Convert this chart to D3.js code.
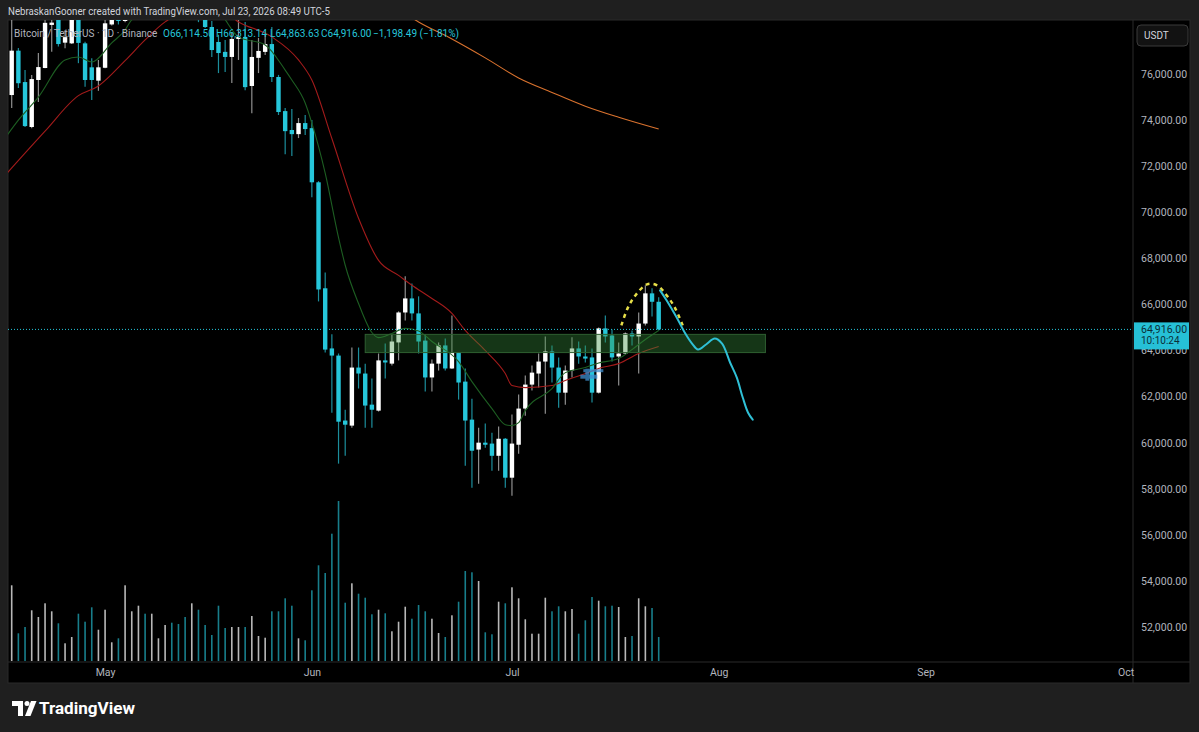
<!DOCTYPE html>
<html>
<head>
<meta charset="utf-8">
<script src="https://cdn.jsdelivr.net/npm/d3@7"></script>
<style>
  body { margin: 0; background: #1f1f1f; }
  svg { display: block; }
  text { font-family: Roboto, "Noto Sans", sans-serif; }
</style>
</head>
<body>
<svg id="chart"></svg>
<script>
//first daily candle, one candle per day after it
var startDate = "2026-04-17";

//daily candles (BTC/USDT, Binance)
var opens = [75087, 77013, 75650, 73700, 75740, 76260, 78130, 78600, 77360, 77330,
    78700, 77330, 76290, 75710, 76270, 78150, 79100, 78300, 80300, 80900,
    81500, 80800, 81300, 81600, 82000, 81300, 80600, 79900, 80600, 79400,
    78040, 77390, 76960, 76740, 77520, 77610, 75480, 76700, 76960, 77300,
    75870, 74390, 73570, 73390, 73870, 73650, 71300, 66700, 64090, 63780,
    60960, 60740, 63260, 63000, 61650, 61390, 63570, 63430, 64350, 65650,
    66260, 65610, 64430, 62830, 63430, 64220, 63220, 63910, 62650, 61000,
    59700, 60000, 59960, 59430, 60170, 58480, 59910, 61480, 62520, 63000,
    63520, 63960, 63260, 62170, 63130, 64090, 63740, 63700, 62170, 64960,
    64650, 63740, 63870, 64740, 64610, 65170, 66480, 66114.5];
var highs = [78600, 77130, 76170, 75960, 76910, 78560, 78500, 78900, 77900, 79000,
    79100, 77400, 76680, 76610, 78700, 79400, 79500, 80600, 81200, 81900,
    81800, 81600, 81900, 82400, 82300, 81600, 81000, 81000, 80900, 79700,
    78300, 77700, 77480, 77780, 78350, 78260, 77480, 77570, 77700, 78040,
    75960, 74520, 74480, 74090, 74220, 74000, 71350, 67390, 64700, 63870,
    61430, 64130, 64130, 63430, 62780, 63870, 64300, 64700, 65700, 67220,
    66910, 66350, 64700, 63610, 64350, 64520, 65520, 63930, 63220, 61910,
    60650, 60830, 60430, 60700, 60200, 61220, 62090, 62910, 63350, 63870,
    64610, 64220, 63700, 63350, 64570, 64390, 64220, 64090, 65000, 65520,
    64910, 64350, 64780, 64870, 65650, 66830, 66700, 66313.14];
var lows = [74520, 75390, 73700, 73650, 74780, 76250, 76970, 77190, 77120, 77300,
    76470, 75450, 74870, 75270, 76250, 78100, 78150, 78250, 79900, 80500,
    80600, 80400, 81000, 81200, 81000, 80300, 79700, 79500, 78250, 78000,
    76740, 76040, 76090, 75610, 76610, 75300, 74300, 76040, 76830, 75650,
    74220, 72520, 72440, 73220, 73350, 70650, 66130, 63910, 61300, 59090,
    59430, 60650, 62350, 60650, 60650, 61350, 62780, 63350, 63570, 65300,
    65300, 63870, 62220, 62220, 63130, 63130, 63200, 61870, 59000, 58040,
    58220, 59780, 58780, 58780, 58040, 57700, 59520, 61170, 62260, 62390,
    61260, 62610, 61520, 61650, 62830, 63430, 63480, 61740, 62130, 64350,
    63520, 62480, 63850, 64220, 63000, 65090, 65480, 64863.63];
var closes = [77013, 75600, 73740, 75780, 76300, 78220, 78230, 77300, 77600, 78700,
    77350, 75740, 75740, 76290, 78200, 79100, 78300, 80300, 80900, 81500,
    80800, 81300, 81600, 82000, 81300, 80600, 79900, 80600, 79400, 78040,
    77040, 76910, 76740, 77520, 77610, 75430, 76740, 77000, 77300, 75870,
    74350, 73520, 73390, 73870, 73610, 71300, 66650, 64040, 63780, 60910,
    60780, 63260, 63000, 61610, 61430, 63570, 63480, 64390, 65650, 66260,
    65610, 64390, 62830, 63430, 64220, 63220, 63910, 62610, 60960, 59650,
    60000, 59910, 59430, 60170, 58480, 59960, 61480, 62520, 63040, 63520,
    63960, 63260, 62170, 63130, 64090, 63740, 63650, 62170, 64960, 64610,
    63700, 63870, 64740, 64610, 65170, 66480, 66114.49, 64916];
//volume, thousand BTC
var volumes = [7.57, 2.77, 3.40, 5.07, 4.40, 5.77, 4.97, 3.77, 1.77, 2.40,
    4.73, 3.93, 5.37, 3.13, 5.13, 1.87, 2.27, 7.57, 4.97, 5.53,
    4.73, 4.73, 2.27, 3.60, 3.83, 3.70, 4.40, 5.77, 5.13, 3.60,
    2.60, 5.53, 3.30, 3.40, 3.40, 3.40, 4.50, 2.50, 2.33, 4.97,
    4.97, 6.27, 5.53, 2.27, 2.07, 7.07, 9.57, 8.80, 12.73, 16.00,
    5.83, 7.77, 6.73, 6.33, 4.67, 5.13, 4.77, 2.97, 3.93, 5.43,
    4.23, 5.60, 4.97, 4.23, 2.80, 2.40, 4.57, 5.93, 9.00, 8.87,
    8.00, 2.87, 2.67, 5.93, 5.77, 7.37, 6.27, 4.17, 2.73, 2.73,
    6.33, 4.97, 5.47, 4.97, 5.20, 2.73, 4.07, 6.40, 6.03, 5.47,
    5.53, 5.40, 2.40, 2.50, 6.27, 5.47, 5.30, 2.40];

//moving averages
var fastMaDates = ["2026-04-16", "2026-04-18", "2026-04-21", "2026-04-25", "2026-04-27", "2026-04-29",
    "2026-05-02", "2026-05-04", "2026-05-05", "2026-05-09", "2026-05-14", "2026-05-18", "2026-05-21",
    "2026-05-25", "2026-05-28", "2026-05-29", "2026-05-31", "2026-06-01", "2026-06-03", "2026-06-05",
    "2026-06-06", "2026-06-08", "2026-06-10", "2026-06-11", "2026-06-13", "2026-06-15", "2026-06-17",
    "2026-06-19", "2026-06-23", "2026-06-25", "2026-06-28", "2026-06-30", "2026-07-01", "2026-07-02",
    "2026-07-03", "2026-07-07", "2026-07-09", "2026-07-12", "2026-07-14", "2026-07-17", "2026-07-19",
    "2026-07-21", "2026-07-23"];
var fastMaValues = [73220, 74000, 75000, 76610, 76740, 76520,
    77350, 77910, 78350, 78900, 79100, 78700, 77610,
    77260, 76170, 75740, 74740, 73870, 71700, 68900,
    67700, 66040, 64780, 64560, 64740, 64960, 64850,
    64390, 63520, 62650, 61480, 60780, 60740, 60870,
    61390, 62350, 63040, 63260, 63460, 63650, 64040,
    64480, 64870];
var slowMaDates = ["2026-04-16", "2026-04-22", "2026-04-27", "2026-04-30", "2026-05-04", "2026-05-07",
    "2026-05-10", "2026-05-14", "2026-05-18", "2026-05-21", "2026-05-26", "2026-05-30", "2026-06-01",
    "2026-06-04", "2026-06-08", "2026-06-11", "2026-06-14", "2026-06-16", "2026-06-19", "2026-06-22",
    "2026-06-24", "2026-06-27", "2026-06-30", "2026-07-01", "2026-07-03", "2026-07-07", "2026-07-09",
    "2026-07-12", "2026-07-14", "2026-07-17", "2026-07-20", "2026-07-23"];
var slowMaValues = [71600, 73520, 75060, 75480, 76580, 77480,
    78260, 78800, 78850, 78260, 77610, 76610, 75740,
    73200, 69740, 67910, 67260, 66830, 66260, 65610,
    64870, 64000, 63000, 62480, 62390, 62480, 62700,
    63000, 63220, 63430, 63870, 64170];
var longMaDates = ["2026-06-13", "2026-06-17", "2026-06-22", "2026-06-27", "2026-07-02", "2026-07-07",
    "2026-07-12", "2026-07-17", "2026-07-23"];
var longMaValues = [79000, 78260, 77520, 76700, 75830, 75200, 74600, 74120, 73610];

//drawings: support zone, projected path, dashed top arc
var zoneDates = ["2026-06-09", "2026-08-08"];
var zonePrices = [63910, 64700];
var pathDays = [0.2, 1.2, 2.7, 3.9, 5.0, 5.9, 7.1, 8.4, 9.5, 10.7, 11.7, 12.6, 13.4, 14.1]; //days after last candle
var pathPrices = [66610, 66170, 65430, 64780, 64300, 64040, 64260, 64520, 64300, 63480, 62830, 61960, 61300, 61000];
var arcDays = [-5.6, -4.6, -3.5, -1.75, -0.25, 1.2, 2.4, 3.6];
var arcPrices = [65090, 65870, 66390, 66870, 66830, 66390, 65870, 65090];
var markerDate = "2026-07-12", markerPrice = 62950;

//axes
var priceTicks = [52000, 54000, 56000, 58000, 60000, 62000, 64000, 66000, 68000, 70000, 72000, 74000, 76000];
var monthTicks = ["2026-05-01", "2026-06-01", "2026-07-01", "2026-08-01", "2026-09-01", "2026-10-01"];
var lastPrice = 64916, countdown = "10:10:24";

var headerText = "NebraskanGooner created with TradingView.com, Jul 23, 2026 08:49 UTC-5";
var symbolText = "Bitcoin / TetherUS \u00b7 1D \u00b7 Binance";
var ohlcItems = ["O66,114.50", "H66,313.14", "L64,863.63", "C64,916.00", "\u22121,198.49 (\u22121.81%)"];

document.addEventListener("DOMContentLoaded", function() {
    drawChart();
});

function drawChart() {
    var svgWidth = 1199, svgHeight = 732;
    var pane = { left: 8, top: 20, right: 1133, bottom: 662 };
    var up = "#ffffff", down = "#26c6da";

    var parse = d3.utcParse("%Y-%m-%d");
    var day0 = parse(startDate);
    var data = opens.map(function(o, i) {
        return {
            date: d3.utcDay.offset(day0, i),
            open: o, high: highs[i], low: lows[i], close: closes[i], volume: volumes[i]
        };
    });
    var lastDate = data[data.length - 1].date;
    var afterLast = function(d) { return new Date(lastDate.getTime() + d * 864e5); };

    var svg = d3.select("#chart")
        .attr("width", svgWidth)
        .attr("height", svgHeight);

    //scales
    var x = d3.scaleUtc().domain([day0, lastDate]).range([11.7, 658.7]);
    var y = d3.scaleLinear().domain([52000, 76000]).range([627, 74]);
    var yVol = d3.scaleLinear().domain([0, 16]).range([661, 501]);

    //header strip text
    svg.append("text")
        .attr("x", 8).attr("y", 15)
        .attr("fill", "#d1d4dc").attr("font-size", 11)
        .attr("textLength", 322).attr("lengthAdjust", "spacingAndGlyphs")
        .text(headerText);

    //chart panel
    svg.append("rect")
        .attr("x", pane.left).attr("y", pane.top)
        .attr("width", 1190 - pane.left).attr("height", 683 - pane.top)
        .attr("fill", "#000").attr("stroke", "#2a2a2a");

    svg.append("clipPath").attr("id", "clip")
        .append("rect")
        .attr("x", pane.left).attr("y", pane.top)
        .attr("width", pane.right - pane.left).attr("height", pane.bottom - pane.top);

    var g = svg.append("g").attr("clip-path", "url(#clip)");

    //volume
    g.append("g").selectAll("rect")
        .data(data)
        .enter().append("rect")
        .attr("x", function(d) { return x(d.date) - 0.8; })
        .attr("width", 1.6)
        .attr("y", function(d) { return yVol(d.volume); })
        .attr("height", function(d) { return yVol(0) - yVol(d.volume); })
        .attr("fill", function(d) { return d.close >= d.open ? "#d8d8d8" : "#1c94a3"; })
        .attr("opacity", 0.85);

    //candles
    var candles = g.append("g").selectAll("g")
        .data(data)
        .enter().append("g");
    candles.append("line")
        .attr("x1", function(d) { return x(d.date); })
        .attr("x2", function(d) { return x(d.date); })
        .attr("y1", function(d) { return y(d.high); })
        .attr("y2", function(d) { return y(d.low); })
        .attr("stroke", function(d) { return d.close >= d.open ? "#8f8f8f" : "#1c8e9c"; })
        .attr("stroke-width", 1.2);
    candles.append("rect")
        .attr("x", function(d) { return x(d.date) - 2.2; })
        .attr("width", 4.4)
        .attr("y", function(d) { return y(Math.max(d.open, d.close)); })
        .attr("height", function(d) { return Math.max(1, Math.abs(y(d.open) - y(d.close))); })
        .attr("fill", function(d) { return d.close >= d.open ? up : down; });

    //moving averages
    var maLine = d3.line()
        .x(function(d) { return x(parse(d[0])); })
        .y(function(d) { return y(d[1]); })
        .curve(d3.curveMonotoneX);
    var mas = [
        { dates: longMaDates, values: longMaValues, color: "#d9722e" },
        { dates: slowMaDates, values: slowMaValues, color: "#a31b1b" },
        { dates: fastMaDates, values: fastMaValues, color: "#1d5e22" }
    ];
    mas.forEach(function(ma) {
        g.append("path")
            .datum(d3.zip(ma.dates, ma.values))
            .attr("fill", "none")
            .attr("stroke", ma.color)
            .attr("stroke-width", 1.1)
            .attr("d", maLine);
    });

    //support zone
    g.append("rect")
        .attr("x", x(parse(zoneDates[0])))
        .attr("width", x(parse(zoneDates[1])) - x(parse(zoneDates[0])))
        .attr("y", y(zonePrices[1]))
        .attr("height", y(zonePrices[0]) - y(zonePrices[1]))
        .attr("fill", "rgb(56,142,60)").attr("fill-opacity", 0.38)
        .attr("stroke", "#2f5f31").attr("stroke-width", 1);

    //blue position marker
    var mx = x(parse(markerDate)), my = y(markerPrice);
    var marker = g.append("g").attr("fill", "#3f8fd0").attr("opacity", 0.75);
    marker.append("rect").attr("x", mx - 2).attr("y", my - 5.5).attr("width", 20).attr("height", 3);
    marker.append("rect").attr("x", mx - 5).attr("y", my).attr("width", 17).attr("height", 4);
    marker.append("rect").attr("x", mx).attr("y", my - 6).attr("width", 4).attr("height", 12);

    //dashed top arc
    var curve = d3.line()
        .x(function(d) { return x(afterLast(d[0])); })
        .y(function(d) { return y(d[1]); })
        .curve(d3.curveCatmullRom);
    g.append("path")
        .datum(d3.zip(arcDays, arcPrices))
        .attr("fill", "none")
        .attr("stroke", "#e6de48")
        .attr("stroke-width", 2.5)
        .attr("stroke-dasharray", "4,4")
        .attr("d", curve);

    //projected path
    g.append("path")
        .datum(d3.zip(pathDays, pathPrices))
        .attr("fill", "none")
        .attr("stroke", "#2fc0d6")
        .attr("stroke-width", 2)
        .attr("stroke-linejoin", "round")
        .attr("stroke-linecap", "round")
        .attr("d", curve);

    //last price line
    svg.append("line")
        .attr("x1", pane.left).attr("x2", pane.right)
        .attr("y1", y(lastPrice)).attr("y2", y(lastPrice))
        .attr("stroke", "#26c6da").attr("stroke-width", 1)
        .attr("stroke-dasharray", "1,2");

    //price scale
    svg.append("line")
        .attr("x1", pane.right).attr("x2", pane.right)
        .attr("y1", pane.top).attr("y2", 683)
        .attr("stroke", "#2a2a2a");
    var yAxis = svg.append("g")
        .attr("transform", "translate(" + pane.right + ",0)")
        .call(d3.axisRight(y).tickValues(priceTicks).tickFormat(d3.format(",.2f")).tickSize(0).tickPadding(8));
    yAxis.select(".domain").remove();
    yAxis.selectAll("text")
        .attr("fill", "#b2b5be")
        .attr("font-size", 10.5)
        .attr("font-family", "Roboto, sans-serif");

    //currency button
    svg.append("rect")
        .attr("x", 1137).attr("y", 25).attr("width", 51).attr("height", 21).attr("rx", 4)
        .attr("fill", "#121212").attr("stroke", "#3a3a3a");
    svg.append("text")
        .attr("x", 1144).attr("y", 39)
        .attr("fill", "#d1d4dc").attr("font-size", 10)
        .text("USDT");

    //last price label, covers the tick label beneath it
    svg.append("rect")
        .attr("x", pane.right + 1).attr("y", y(lastPrice) - 7)
        .attr("width", 55).attr("height", 27)
        .attr("fill", "#26c0d6");
    svg.append("text")
        .attr("x", 1141).attr("y", y(lastPrice) + 3.5)
        .attr("fill", "#0b2f38").attr("font-size", 10.5)
        .text(d3.format(",.2f")(lastPrice));
    svg.append("text")
        .attr("x", 1141).attr("y", y(lastPrice) + 15)
        .attr("fill", "#0b2f38").attr("font-size", 10)
        .text(countdown);

    //time scale
    svg.append("line")
        .attr("x1", pane.left).attr("x2", 1190)
        .attr("y1", pane.bottom).attr("y2", pane.bottom)
        .attr("stroke", "#2a2a2a");
    var xAxis = svg.append("g")
        .attr("transform", "translate(0," + pane.bottom + ")")
        .call(d3.axisBottom(x).tickValues(monthTicks.map(parse)).tickFormat(d3.utcFormat("%b")).tickSize(0).tickPadding(7));
    xAxis.select(".domain").remove();
    xAxis.selectAll("text")
        .attr("fill", "#b2b5be")
        .attr("font-size", 10.5)
        .attr("font-family", "Roboto, sans-serif");

    //legend
    svg.append("text")
        .attr("x", 14).attr("y", 37)
        .attr("fill", "#b2b5be").attr("font-size", 10)
        .text(symbolText);
    var itemX = [163, 216, 270, 321, 373];
    svg.append("g").selectAll("text")
        .data(ohlcItems)
        .enter().append("text")
        .attr("x", function(d, i) { return itemX[i]; })
        .attr("y", 37)
        .attr("fill", "#26c6da").attr("font-size", 10)
        .text(function(d) { return d; });

    //footer logo
    var logo = svg.append("g").attr("fill", "#ffffff");
    logo.append("path").attr("d", "M12,701 h11 v15 h-5 v-10 h-6 z");
    logo.append("circle").attr("cx", 27).attr("cy", 703.5).attr("r", 2.5);
    logo.append("path").attr("d", "M31,701 h5.5 l-6,15 h-5.5 z");
    logo.append("text")
        .attr("x", 39).attr("y", 714)
        .attr("font-size", 17).attr("font-weight", 700)
        .attr("textLength", 96).attr("lengthAdjust", "spacingAndGlyphs")
        .text("TradingView");
}
</script>
</body>
</html>
